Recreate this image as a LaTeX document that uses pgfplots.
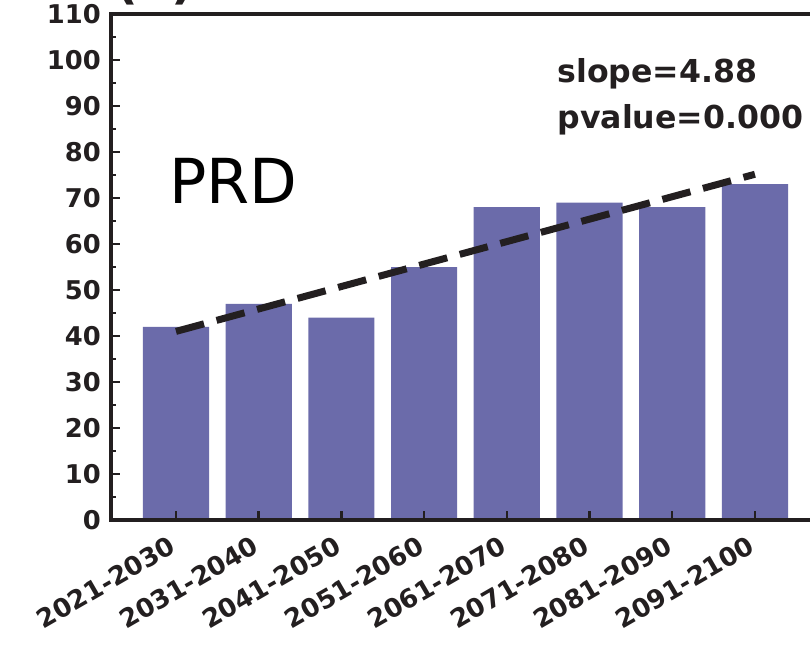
\documentclass[border=0pt]{standalone}
\usepackage{pgfplots}
\pgfplotsset{compat=1.18}
\usepackage{fontspec}
\setmainfont{DejaVu Sans}
\definecolor{txt}{HTML}{231F20}
\definecolor{barc}{HTML}{6B6BAA}
\begin{document}
\begin{tikzpicture}
\useasboundingbox (0pt,0pt) rectangle (810pt,649pt);
\clip (0pt,0pt) rectangle (810pt,649pt);
\node[anchor=base west, inner sep=0pt, font=\fontsize{50pt}{60pt}\selectfont\bfseries, text=txt] at (115pt,650pt) {(a)};
\begin{axis}[
  at={(111pt,129pt)}, anchor=south west,
  scale only axis, width=709pt, height=506pt,
  xmin=-0.786, xmax=7.787, ymin=0, ymax=110,
  enlargelimits=false,
  axis on top,
  axis line style={line width=3.5pt, color=txt},
  ytick={0,10,...,110},
  minor y tick num=1,
  xtick={0,1,2,3,4,5,6,7},
  xticklabels={2021-2030,2031-2040,2041-2050,2051-2060,2061-2070,2071-2080,2081-2090,2091-2100},
  xtick pos=left, ytick pos=left,
  tick align=inside,
  major tick length=9pt, minor tick length=5pt,
  every tick/.style={line width=2.5pt, color=txt},
  /pgf/number format/assume math mode=true,
  tick label style={font=\fontsize{25.8pt}{30pt}\selectfont\bfseries, text=txt, inner sep=0pt},
  yticklabel style={xshift=-10pt},
  xticklabel style={xshift=-8pt, yshift=-15pt, rotate=30, anchor=north east},
]
\addplot[ybar, bar width=0.8, fill=barc, draw=none] coordinates {
  (0,42) (1,47) (2,44) (3,55) (4,68) (5,69) (6,68) (7,73)
};
\addplot[txt, line width=7pt, dash pattern=on 29pt off 13pt, mark=none] coordinates {
  (0,41.0) (7,75.16)
};
\node[anchor=base west, inner sep=0pt, font=\fontsize{31.6pt}{38pt}\selectfont\bfseries, text=txt] at (axis cs:4.61,95.2) {slope=4.88};
\node[anchor=base west, inner sep=0pt, font=\fontsize{31.6pt}{38pt}\selectfont\bfseries, text=txt] at (axis cs:4.61,85.2) {pvalue=0.000};
\node[anchor=base west, inner sep=0pt, font=\fontsize{62pt}{70pt}\selectfont, text=black] at (axis cs:-0.085,68.9) {PRD};
\end{axis}
\end{tikzpicture}
\end{document}
